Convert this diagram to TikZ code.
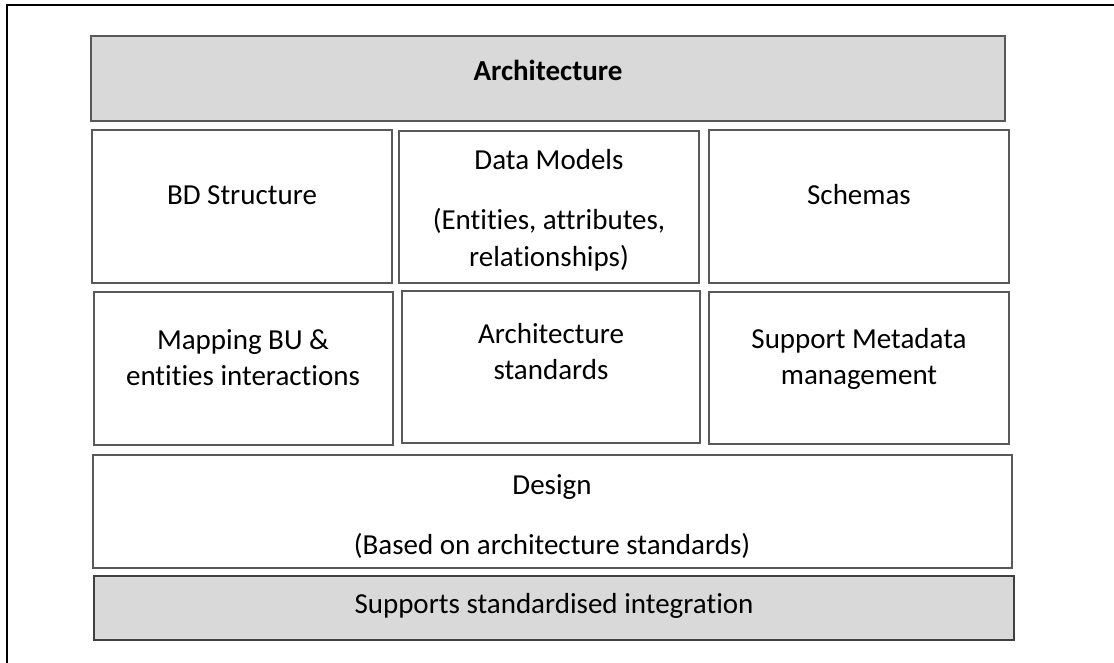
\documentclass[tikz,border=0pt]{standalone}
\usepackage{fontspec}
\setmainfont[Ligatures={NoCommon}]{Carlito}
\definecolor{boxfill}{HTML}{D9D9D9}
\definecolor{boxline}{HTML}{595959}
\definecolor{boxdark}{HTML}{404040}
\begin{document}
\begin{tikzpicture}[x=1pt,y=-1pt,
  box/.style={draw=boxline, line width=2.6pt, fill=white, inner sep=0pt, outer sep=0pt, rectangle},
  graybox/.style={box, fill=boxfill},
  txt/.style={font=\fontsize{29}{35}\selectfont, inner sep=0pt, anchor=base}]
\useasboundingbox (0,0) rectangle (1114,663);
\coordinate (fa) at (7,663);
\coordinate (fb) at (7,5);
\coordinate (fc) at (1114,5);
\draw[line width=2.4pt, line cap=rect] (fa) -- (fb) -- (fc);
% boxes
\node[graybox, minimum width=914pt, minimum height=85pt] (arch) at (548,78.5) {};
\node[box, minimum width=300pt, minimum height=153pt] (bd) at (242,206.5) {};
\node[box, minimum width=300pt, minimum height=152pt] (dm) at (549,207) {};
\node[box, minimum width=300pt, minimum height=153pt] (sc) at (859,206.5) {};
\node[box, minimum width=299pt, minimum height=153pt] (map) at (243.5,368.5) {};
\node[box, minimum width=298pt, minimum height=152pt] (as) at (551,367) {};
\node[box, minimum width=300pt, minimum height=152pt] (sm) at (859,368) {};
\node[box, minimum width=919pt, minimum height=113pt] (des) at (552.5,511.5) {};
\node[graybox, draw=boxdark, minimum width=920pt, minimum height=64pt] (sup) at (554,608) {};
% texts
\node[txt, font=\fontsize{29}{35}\selectfont\bfseries] (tarch) at (548,81) {Architecture};
\node[txt] (tbd) at (242,205) {BD Structure};
\node[txt] (tdm1) at (549,170) {Data Models};
\node[txt] (tdm2) at (549,230) {(Entities, attributes,};
\node[txt] (tdm3) at (549,266) {relationships)};
\node[txt] (tsc) at (859,205) {Schemas};
\node[txt] (tmap1) at (243,349) {Mapping BU \&};
\node[txt] (tmap2) at (243,385) {entities interactions};
\node[txt] (tas1) at (551,343) {Architecture};
\node[txt] (tas2) at (551,379) {standards};
\node[txt] (tsm1) at (859,348) {Support Metadata};
\node[txt] (tsm2) at (859,384) {management};
\node[txt] (tdes1) at (552,494) {Design};
\node[txt] (tdes2) at (552,554) {(Based on architecture standards)};
\node[txt] (tsup) at (554,613) {Supports standardised integration};
\end{tikzpicture}
\end{document}
